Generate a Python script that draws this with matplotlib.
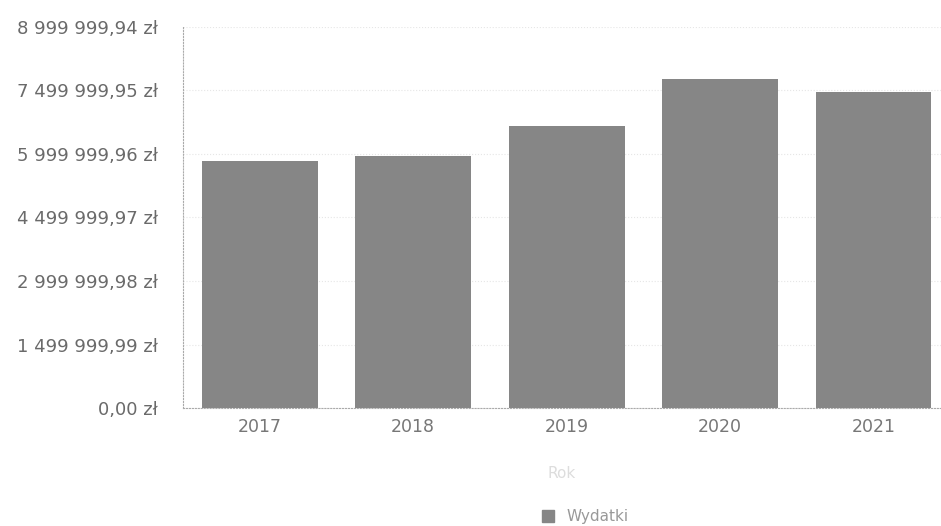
import matplotlib
matplotlib.use("Agg")
import matplotlib.pyplot as plt
from matplotlib.patches import Patch
from matplotlib.ticker import FixedLocator, FuncFormatter

plt.rcParams['font.family'] = ['DejaVu Sans']

years = ["2017", "2018", "2019", "2020", "2021"]
wydatki = [5830000, 5950000, 6660000, 7770000, 7460000]
y_ticks = [0.00, 1499999.99, 2999999.98, 4499999.97, 5999999.96, 7499999.95, 8999999.94]

def pl_fmt(v, pos=None):
    s = f"{v:,.2f}"
    s = s.replace(",", " ").replace(".", ",")
    return s + " zł"

fig = plt.figure(figsize=(9.41, 5.26), dpi=100)
ax = fig.add_axes([183/941, 1-408/526, 758/941, (408-27)/526])

x = list(range(len(years)))
ax.bar(x, wydatki, width=0.755, color="#868686", zorder=2)

ax.set_ylim(0, 8999999.94)
ax.set_xlim(-0.5, 4.44)
ax.yaxis.set_major_locator(FixedLocator(y_ticks))
ax.yaxis.set_major_formatter(FuncFormatter(pl_fmt))
ax.set_xticks(x)
ax.set_xticklabels(years)
ax.tick_params(axis="y", length=0, pad=18, labelsize=13, labelcolor="#6a6a6a")
ax.tick_params(axis="x", length=0, pad=7, labelsize=12.5, labelcolor="#777777")

ax.grid(axis="y", color="#e6e6e6", linestyle=":", linewidth=0.8, zorder=0)
for s in ["top", "right"]:
    ax.spines[s].set_visible(False)
ax.spines["left"].set_linestyle(":")
ax.spines["left"].set_color("#aaaaaa")
ax.spines["bottom"].set_linestyle(":")
ax.spines["bottom"].set_color("#aaaaaa")

ax.set_xlabel("Rok", fontsize=11, color="#dddddd", labelpad=22)

fig.legend(handles=[Patch(color="#868686", label="Wydatki")],
           loc="center", bbox_to_anchor=(585/941, 1-517/526), frameon=False,
           fontsize=11, labelcolor="#999999", handlelength=0.8, handleheight=0.8)

fig.savefig("out.png", dpi=100)
